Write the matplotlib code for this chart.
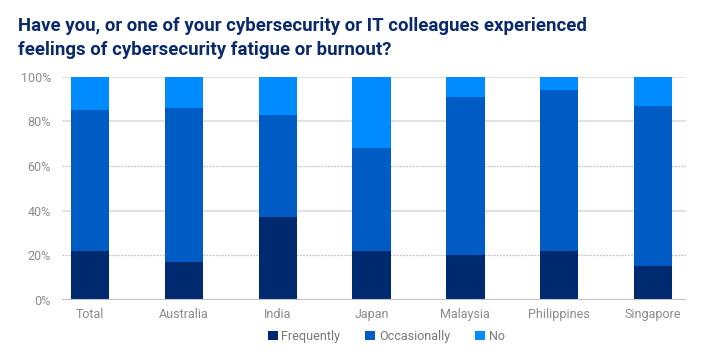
import matplotlib.pyplot as plt
import numpy as np

# Survey shares (%) per country
countries = ['Total', 'Australia', 'India', 'Japan', 'Malaysia', 'Philippines', 'Singapore']
frequently = [22, 17, 37, 22, 20, 22, 15]
occasionally = [63, 69, 46, 46, 71, 72, 72]
no = [15, 14, 17, 32, 9, 6, 13]

series_names = ['Frequently', 'Occasionally', 'No']
colors = ['#002a70', '#005cc5', '#008cff']
yticks = [0, 20, 40, 60, 80, 100]
title_lines = ['Have you, or one of your cybersecurity or IT colleagues experienced',
               'feelings of cybersecurity fatigue or burnout?']

fig = plt.figure(figsize=(7.18, 3.63), dpi=100)
ax = fig.add_axes([0.0864, 0.1736, 0.8686, 0.6151])

x = np.arange(len(countries))
width = 0.41
bottom = np.zeros(len(countries))
for vals, name, col in zip([frequently, occasionally, no], series_names, colors):
    ax.bar(x, vals, width, bottom=bottom, color=col, label=name, zorder=2, linewidth=0)
    bottom += np.array(vals)

ax.set_xlim(-0.3, 6.35)
ax.set_ylim(0, 100)
ax.set_yticks(yticks)
ax.set_yticklabels([f'{v}%' for v in yticks])
ax.set_xticks(x)
ax.set_xticklabels(countries)

# gridlines: alternate solid / dotted like the original
for v in yticks[1:]:
    if v in (20, 60):
        ax.axhline(v, color='#c4c4c8', linewidth=0.9, linestyle=(0, (1.5, 1)), zorder=0)
    else:
        ax.axhline(v, color='#dcdce2', linewidth=1.2, zorder=0)
ax.axhline(0, color='#c0c4d0', linewidth=1.5, zorder=3)

for s in ax.spines.values():
    s.set_visible(False)
ax.tick_params(length=0, colors='#8a8a8a', labelsize=9)
ax.tick_params(axis='y', pad=8)
ax.tick_params(axis='x', pad=6)
for lbl in ax.get_xticklabels() + ax.get_yticklabels():
    lbl.set_fontfamily('Roboto')

for line, ypos in zip(title_lines, [0.9146, 0.8485]):
    fig.text(0.025, ypos, line, fontsize=13.4, fontweight='bold', color='#0b2a6b',
             family='Roboto', va='baseline', ha='left')

leg = fig.legend(loc='lower center', bbox_to_anchor=(0.538, 0.025), ncol=3, frameon=False,
                 handlelength=0.8, handleheight=0.8, handletextpad=0.3, columnspacing=2.0,
                 prop={'family': 'Roboto', 'size': 9})
for t in leg.get_texts():
    t.set_color('#777777')

fig.savefig('out.png', dpi=100)
